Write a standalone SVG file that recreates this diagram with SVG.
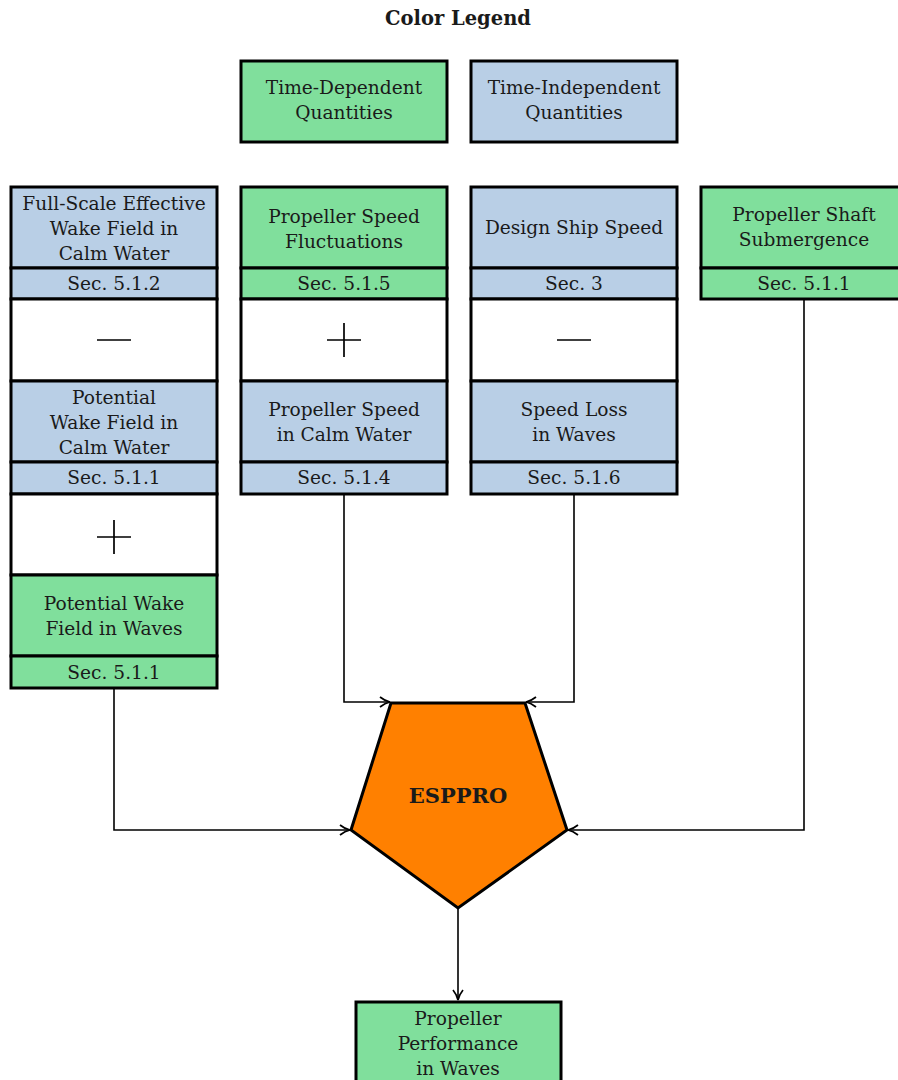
<svg xmlns="http://www.w3.org/2000/svg" width="898" height="1080" viewBox="0 0 898 1080">
<style>
text{font-family:"DejaVu Serif","Liberation Serif",serif;font-size:18.6px;fill:#1a1a1a;text-anchor:middle}
.b{font-weight:bold}
.t{font-size:19.5px}
.e{font-size:21px}
.g{fill:#80DF9C;stroke:#000;stroke-width:3}
.bl{fill:#B9CFE6;stroke:#000;stroke-width:3}
.w{fill:#fff;stroke:#000;stroke-width:3}
.sym{stroke:#000;stroke-width:1.7;fill:none}
.c{fill:none;stroke:#000;stroke-width:1.6}
</style>
<defs>
<marker id="ah" viewBox="0 0 14 14" refX="12" refY="7" markerWidth="14" markerHeight="14" markerUnits="userSpaceOnUse" orient="auto">
<path d="M2,2 Q7,6 12,7 Q7,8 2,12" fill="none" stroke="#000" stroke-width="1.7"/>
</marker>
</defs>
<rect width="898" height="1080" fill="#fff"/>
<text class="b t" x="458" y="25">Color Legend</text>
<g id="legend-td"><rect class="g" x="241" y="61" width="206" height="81"/><text x="344" y="94">Time-Dependent</text><text x="344" y="119">Quantities</text></g>
<g id="legend-ti"><rect class="bl" x="471" y="61" width="206" height="81"/><text x="574" y="94">Time-Independent</text><text x="574" y="119">Quantities</text></g>

<g id="connectors">
<path class="c" d="M344,494 V702 H390" marker-end="url(#ah)"/>
<path class="c" d="M574,494 V702 H526" marker-end="url(#ah)"/>
<path class="c" d="M114,688 V830 H350" marker-end="url(#ah)"/>
<path class="c" d="M804,299 V830 H568" marker-end="url(#ah)"/>
<path class="c" d="M458,908 V1000" marker-end="url(#ah)"/>
</g>

<g id="col1">
<g id="fs-wake"><rect class="bl" x="11" y="187" width="206" height="81"/><text x="114" y="210">Full-Scale Effective</text><text x="114" y="235">Wake Field in</text><text x="114" y="260">Calm Water</text></g>
<g id="fs-wake-sec"><rect class="bl" x="11" y="268" width="206" height="31"/><text x="114" y="290">Sec. 5.1.2</text></g>
<g id="minus1"><rect class="w" x="11" y="299" width="206" height="82"/><path class="sym" d="M97,340 H131"/></g>
<g id="pot-wake"><rect class="bl" x="11" y="381" width="206" height="81"/><text x="114" y="404">Potential</text><text x="114" y="429">Wake Field in</text><text x="114" y="454">Calm Water</text></g>
<g id="pot-wake-sec"><rect class="bl" x="11" y="462" width="206" height="32"/><text x="114" y="484">Sec. 5.1.1</text></g>
<g id="plus1"><rect class="w" x="11" y="494" width="206" height="81"/><path class="sym" d="M97,537 H131 M114,520 V554"/></g>
<g id="pot-wake-waves"><rect class="g" x="11" y="575" width="206" height="81"/><text x="114" y="610">Potential Wake</text><text x="114" y="635">Field in Waves</text></g>
<g id="pot-wake-waves-sec"><rect class="g" x="11" y="656" width="206" height="32"/><text x="114" y="679">Sec. 5.1.1</text></g>
</g>

<g id="col2">
<g id="prop-fluct"><rect class="g" x="241" y="187" width="206" height="81"/><text x="344" y="223">Propeller Speed</text><text x="344" y="248">Fluctuations</text></g>
<g id="prop-fluct-sec"><rect class="g" x="241" y="268" width="206" height="31"/><text x="344" y="290">Sec. 5.1.5</text></g>
<g id="plus2"><rect class="w" x="241" y="299" width="206" height="82"/><path class="sym" d="M327,340 H361 M344,323 V357"/></g>
<g id="prop-calm"><rect class="bl" x="241" y="381" width="206" height="81"/><text x="344" y="416">Propeller Speed</text><text x="344" y="441">in Calm Water</text></g>
<g id="prop-calm-sec"><rect class="bl" x="241" y="462" width="206" height="32"/><text x="344" y="484">Sec. 5.1.4</text></g>
</g>

<g id="col3">
<g id="ship-speed"><rect class="bl" x="471" y="187" width="206" height="81"/><text x="574" y="234">Design Ship Speed</text></g>
<g id="ship-speed-sec"><rect class="bl" x="471" y="268" width="206" height="31"/><text x="574" y="290">Sec. 3</text></g>
<g id="minus3"><rect class="w" x="471" y="299" width="206" height="82"/><path class="sym" d="M557,340 H591"/></g>
<g id="speed-loss"><rect class="bl" x="471" y="381" width="206" height="81"/><text x="574" y="416">Speed Loss</text><text x="574" y="441">in Waves</text></g>
<g id="speed-loss-sec"><rect class="bl" x="471" y="462" width="206" height="32"/><text x="574" y="484">Sec. 5.1.6</text></g>
</g>

<g id="col4">
<g id="shaft"><rect class="g" x="701" y="187" width="206" height="81"/><text x="804" y="221">Propeller Shaft</text><text x="804" y="246">Submergence</text></g>
<g id="shaft-sec"><rect class="g" x="701" y="268" width="206" height="31"/><text x="804" y="290">Sec. 5.1.1</text></g>
</g>

<g id="esppro"><polygon points="391,703 525,703 567,830 458,908 351,830" fill="#FF8000" stroke="#000" stroke-width="3" stroke-linejoin="miter"/><text class="b e" x="458" y="803">ESPPRO</text></g>

<g id="performance"><rect class="g" x="356" y="1002" width="205" height="90"/><text x="458" y="1025">Propeller</text><text x="458" y="1050">Performance</text><text x="458" y="1075">in Waves</text></g>
</svg>
